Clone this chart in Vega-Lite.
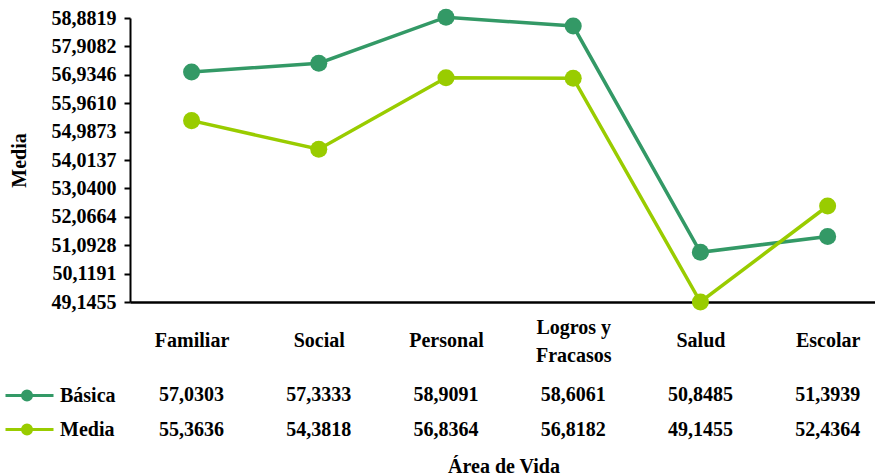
{
  "$schema": "https://vega.github.io/schema/vega-lite/v6.json",
  "background": "white",
  "padding": {"left": 9, "top": 8, "right": 0, "bottom": 0},
  "config": {
    "locale": {"number": {"decimal": ",", "thousands": ".", "grouping": [3], "currency": ["", " €"]}},
    "font": "'Liberation Serif', 'Times New Roman', serif",
    "view": {"stroke": null},
    "axis": {"labelFont": "'Liberation Serif', 'Times New Roman', serif", "titleFont": "'Liberation Serif', 'Times New Roman', serif", "labelFontWeight": "bold", "titleFontWeight": "bold", "labelFontSize": 20, "titleFontSize": 20, "labelColor": "black", "titleColor": "black", "grid": false},
    "concat": {"spacing": 12}
  },
  "datasets": {
    "medias": [
      {"area": "Familiar", "nivel": "Básica", "valor": 57.0303},
      {"area": "Social", "nivel": "Básica", "valor": 57.3333},
      {"area": "Personal", "nivel": "Básica", "valor": 58.9091},
      {"area": "Logros y Fracasos", "nivel": "Básica", "valor": 58.6061},
      {"area": "Salud", "nivel": "Básica", "valor": 50.8485},
      {"area": "Escolar", "nivel": "Básica", "valor": 51.3939},
      {"area": "Familiar", "nivel": "Media", "valor": 55.3636},
      {"area": "Social", "nivel": "Media", "valor": 54.3818},
      {"area": "Personal", "nivel": "Media", "valor": 56.8364},
      {"area": "Logros y Fracasos", "nivel": "Media", "valor": 56.8182},
      {"area": "Salud", "nivel": "Media", "valor": 49.1455},
      {"area": "Escolar", "nivel": "Media", "valor": 52.4364}
    ]
  },
  "vconcat": [
    {
      "width": 747,
      "height": 284,
      "data": {"name": "medias"},
      "encoding": {
        "x": {
          "field": "area", "type": "nominal", "sort": null,
          "scale": {"type": "point", "padding": 0.436, "align": 0.555},
          "axis": {"title": null, "ticks": false, "domainColor": "black", "domainWidth": 2.5, "labelPadding": {"condition": {"test": "datum.value == 'Logros y Fracasos'", "value": 25}, "value": 38}, "labelBaseline": "middle", "labelAngle": 0, "labelLineHeight": 28, "labelExpr": "datum.label == 'Logros y Fracasos' ? ['Logros y', 'Fracasos'] : datum.label"}
        },
        "y": {
          "field": "valor", "type": "quantitative",
          "scale": {"domain": [49.1455, 58.8819], "nice": false, "zero": false},
          "axis": {"title": "Media", "values": [49.1455, 50.1191, 51.0928, 52.0664, 53.04, 54.0137, 54.9873, 55.961, 56.9346, 57.9082, 58.8819], "format": ".4f", "domainColor": "black", "domainWidth": 2, "tickColor": "black", "tickWidth": 2, "tickSize": 6, "labelPadding": 8, "titlePadding": 22}
        },
        "color": {
          "field": "nivel", "type": "nominal",
          "scale": {"domain": ["Básica", "Media"], "range": ["#339966", "#99CC00"]},
          "legend": {
            "orient": "none", "legendX": -112, "legendY": 366, "title": null,
            "labelFont": "'Liberation Serif', 'Times New Roman', serif", "labelFontWeight": "bold", "labelFontSize": 20, "labelColor": "black",
            "symbolType": "M-2.4,0H2.4M-0.7,0A0.45,0.45,0,1,0,0.2,0A0.45,0.45,0,1,0,-0.7,0",
            "symbolSize": 400, "symbolStrokeWidth": 3, "labelOffset": 19, "rowPadding": 11, "padding": 0,
            "encode": {"symbols": {"update": {"fill": {"scale": "color", "field": "value"}, "stroke": {"scale": "color", "field": "value"}, "opacity": {"value": 1}}}}
          }
        }
      },
      "layer": [
        {"mark": {"type": "line", "strokeWidth": 3.5}},
        {"mark": {"type": "point", "filled": true, "size": 290, "opacity": 1}}
      ]
    },
    {
      "width": 747,
      "height": 70,
      "data": {"name": "medias"},
      "mark": {"type": "text", "font": "'Liberation Serif', 'Times New Roman', serif", "fontWeight": "bold", "fontSize": 20, "color": "black"},
      "encoding": {
        "x": {
          "field": "area", "type": "nominal", "sort": null,
          "scale": {"type": "point", "padding": 0.436, "align": 0.555},
          "axis": {"title": "Área de Vida", "labels": false, "ticks": false, "domain": false, "titlePadding": 9}
        },
        "y": {"field": "nivel", "type": "nominal", "sort": ["Básica", "Media"], "scale": {"paddingInner": 0, "paddingOuter": 0}, "axis": null},
        "text": {"field": "valor", "type": "quantitative", "format": ".4f"}
      }
    }
  ]
}
